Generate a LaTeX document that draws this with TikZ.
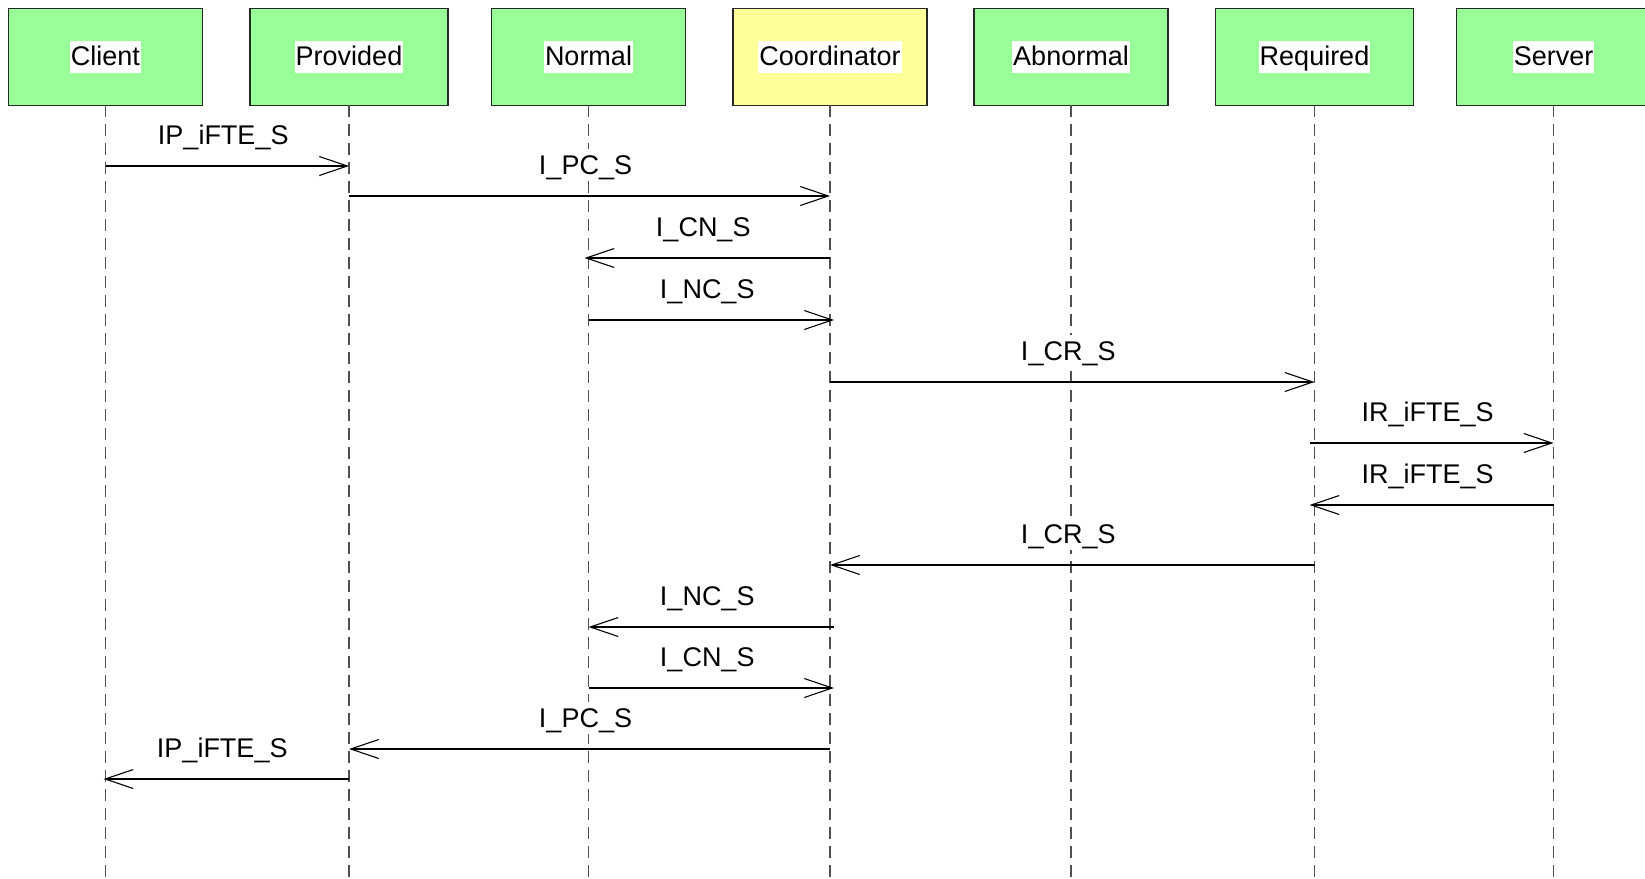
\documentclass[tikz,border=0pt]{standalone}
\usepackage{fontspec}
\setmainfont{Liberation Sans}
\usetikzlibrary{arrows.meta}

\definecolor{actorgreen}{RGB}{153,255,153}
\definecolor{actoryellow}{RGB}{255,255,153}
\definecolor{lifegrey}{RGB}{80,80,80}

\begin{document}
\begin{tikzpicture}[x=1pt, y=-1pt,
  actor/.style={draw=black!85, line width=1.3pt, fill=actorgreen,
    minimum width=194pt, minimum height=97pt, inner sep=0pt, outer sep=0pt},
  wideactor/.style={actor, minimum width=198pt},
  coordinator/.style={actor, fill=actoryellow},
  boxlabel/.style={fill=white, inner xsep=1pt, inner ysep=1.5pt,
    text height=23pt, text depth=6pt, font=\fontsize{27}{32}\selectfont},
  lifeline/.style={draw=lifegrey, line width=1.3pt, dash pattern=on 12pt off 7pt},
  msg/.style={line width=1.3pt,
    -{Straight Barb[length=28pt, width=19pt, line width=1.1pt]}},
  msglabel/.style={fill=white, inner xsep=1pt, inner ysep=2pt,
    text height=23pt, text depth=5pt, font=\fontsize{27}{32}\selectfont,
    anchor=base, yshift=22pt, xshift=-4pt}
]
\useasboundingbox (0,0) rectangle (1645,878);
\fill[white] (0,0) rectangle (1645,878);

% participants
\node[actor,       label={[boxlabel]center:Client}]      (client)   at (105.5,56.7) {};
\node[wideactor,   label={[boxlabel]center:Provided}]    (provided) at (349,56.7)   {};
\node[actor,       label={[boxlabel]center:Normal}]      (normal)   at (588.5,56.7) {};
\node[coordinator, label={[boxlabel]center:Coordinator}] (coord)    at (830,56.7)   {};
\node[actor,       label={[boxlabel]center:Abnormal}]    (abnormal) at (1071,56.7)  {};
\node[wideactor,   label={[boxlabel]center:Required}]    (required) at (1314.5,56.7){};
\node[actor,       label={[boxlabel]center:Server}]      (server)   at (1553.5,56.7){};

% lifelines
\coordinate (bottom) at (0,878);
\foreach \p in {client,provided,normal,coord,abnormal,required,server}
  \draw[lifeline] (\p.south) -- (\p.south |- bottom);

% message rows
\coordinate (m1)  at (0,166);
\coordinate (m2)  at (0,196);
\coordinate (m3)  at (0,258);
\coordinate (m4)  at (0,320);
\coordinate (m5)  at (0,382);
\coordinate (m6)  at (0,443);
\coordinate (m7)  at (0,505);
\coordinate (m8)  at (0,565);
\coordinate (m9)  at (0,627);
\coordinate (m10) at (0,688);
\coordinate (m11) at (0,749);
\coordinate (m12) at (0,779);

% messages
\draw[msg] (client |- m1) -- node[msglabel] {IP\_iFTE\_S} (provided |- m1);
\draw[msg] (provided |- m2) -- node[msglabel] {I\_PC\_S} (coord |- m2);
\draw[msg] (coord |- m3) -- node[msglabel] {I\_CN\_S} ([xshift=-4pt]normal |- m3);
\draw[msg] (normal |- m4) -- node[msglabel] {I\_NC\_S} ([xshift=4pt]coord |- m4);
\draw[msg] (coord |- m5) -- node[msglabel] {I\_CR\_S} (required |- m5);
\draw[msg] ([xshift=-5pt]required |- m6) -- node[msglabel] {IR\_iFTE\_S} (server |- m6);
\draw[msg] (server |- m7) -- node[msglabel] {IR\_iFTE\_S} ([xshift=-5pt]required |- m7);
\draw[msg] (required |- m8) -- node[msglabel] {I\_CR\_S} (coord |- m8);
\draw[msg] ([xshift=4pt]coord |- m9) -- node[msglabel] {I\_NC\_S} (normal |- m9);
\draw[msg] (normal |- m10) -- node[msglabel] {I\_CN\_S} ([xshift=4pt]coord |- m10);
\draw[msg] (coord |- m11) -- node[msglabel] {I\_PC\_S} (provided |- m11);
\draw[msg] (provided |- m12) -- node[msglabel] {IP\_iFTE\_S} ([xshift=-2pt]client |- m12);
\end{tikzpicture}
\end{document}
